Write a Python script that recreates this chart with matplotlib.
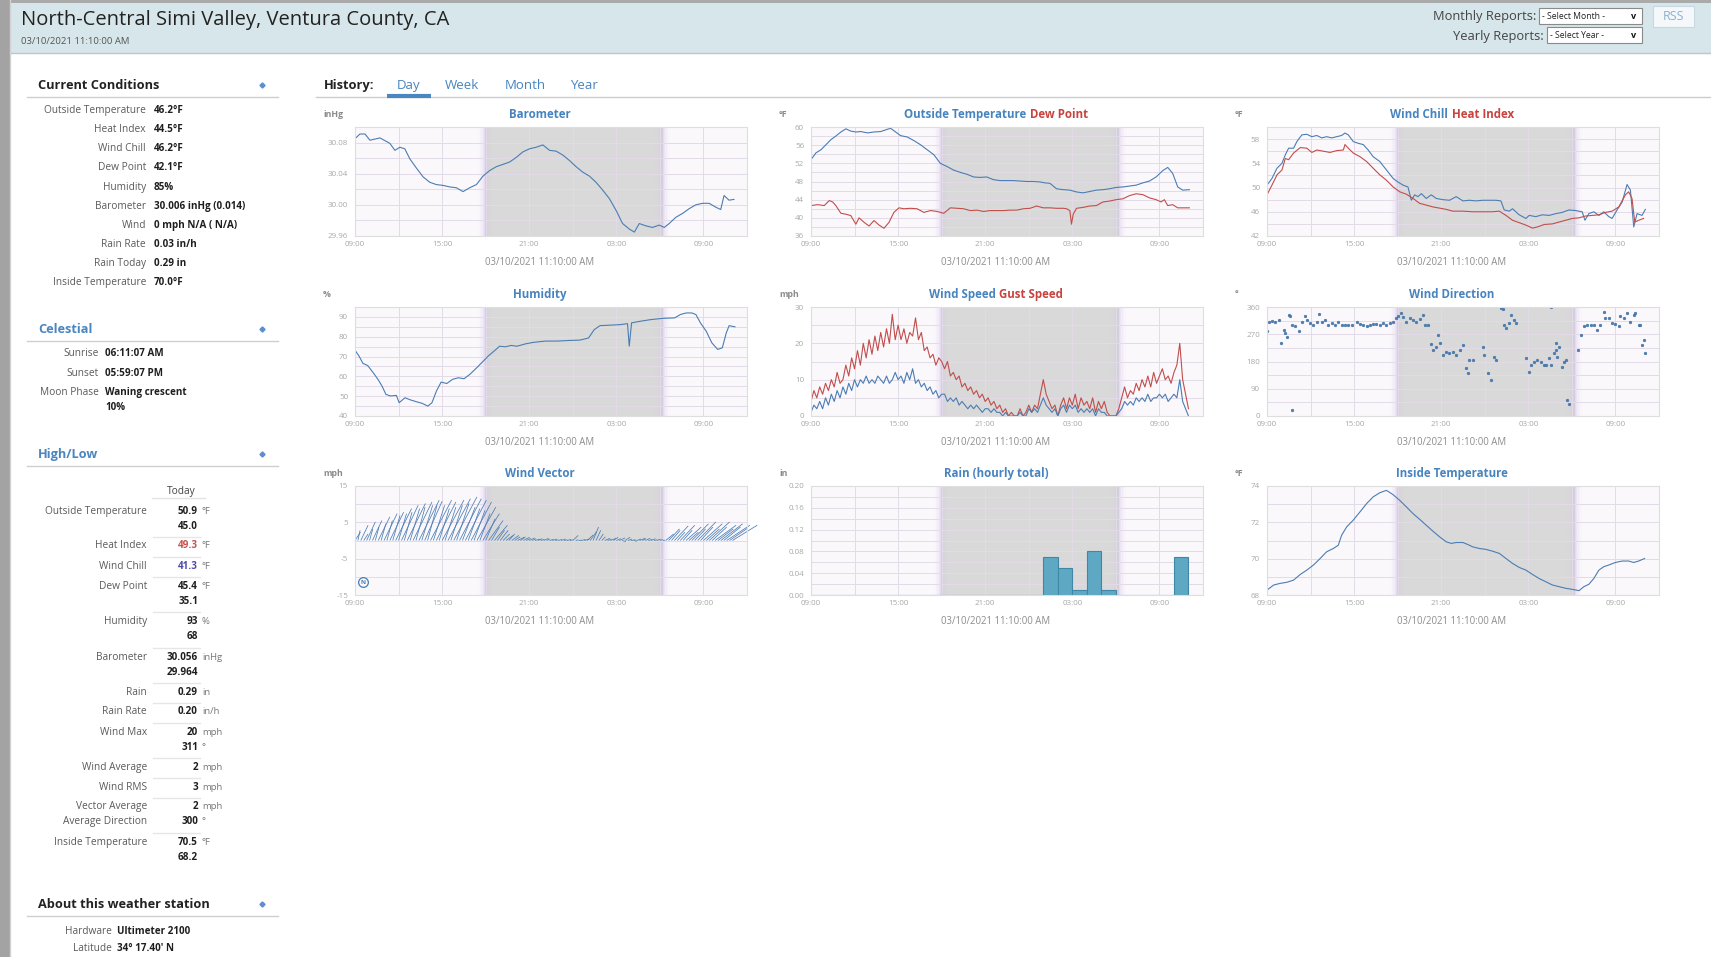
import numpy as np
import matplotlib
matplotlib.use("Agg")
import matplotlib.pyplot as plt
from matplotlib.patches import Rectangle
from matplotlib.collections import LineCollection

plt.rcParams["font.family"] = ["Open Sans", "DejaVu Sans"]

W, H = 1711, 957

# ---------------- page text ----------------
station_name = "North-Central Simi Valley, Ventura County, CA"
report_time = "03/10/2021 11:10:00 AM"

cc_labels = ["Outside Temperature", "Heat Index", "Wind Chill", "Dew Point", "Humidity",
             "Barometer", "Wind", "Rain Rate", "Rain Today", "Inside Temperature"]
cc_values = ["46.2°F", "44.5°F", "46.2°F", "42.1°F", "85%",
             "30.006 inHg (0.014)", "0 mph N/A ( N/A)", "0.03 in/h", "0.29 in", "70.0°F"]

celestial_labels = ["Sunrise", "Sunset", "Moon Phase"]
celestial_values = ["06:11:07 AM", "05:59:07 PM", "Waning crescent"]
moon_fullness = "10%"

hilo_labels = ["Outside Temperature", "Heat Index", "Wind Chill", "Dew Point", "Humidity",
               "Barometer", "Rain", "Rain Rate", "Wind Max", "Wind Average", "Wind RMS",
               "Vector Average", "Inside Temperature"]
hilo_sublabels = [None] * 11 + ["Average Direction", None]
hilo_high = ["50.9", "49.3", "41.3", "45.4", "93", "30.056", "0.29", "0.20", "20", "2", "3", "2", "70.5"]
hilo_low = ["45.0", None, None, "35.1", "68", "29.964", None, None, "311", None, None, "300", "68.2"]
hilo_units = ["°F", "°F", "°F", "°F", "%", "inHg", "in", "in/h", "mph", "mph", "mph", "mph", "°F"]
hilo_low_units = ["", "", "", "", "", "", "", "", "°", "", "", "°", ""]

about_labels = ["Hardware", "Latitude"]
about_values = ["Ultimeter 2100", "34° 17.40' N"]

history_tabs = ["Day", "Week", "Month", "Year"]

# ---------------- chart data (hours after 09:00 on 03/09) ----------------
time_ticks = [0, 6, 12, 18, 24]
time_labels = ["09:00", "15:00", "21:00", "03:00", "09:00"]
sunset_h = 8.985   # 17:59:07
sunrise_h = 21.185  # 06:11:07

baro_hours = [0.0, 0.34, 0.69, 1.03, 1.72, 2.40, 2.75, 3.09, 3.43, 3.78, 4.24, 4.69, 5.15, 5.61,
              6.07, 6.53, 6.98, 7.44, 7.90, 8.36, 8.82, 9.27, 9.73, 10.19, 10.65, 11.11, 11.56,
              12.02, 12.48, 12.94, 13.40, 13.85, 14.31, 14.77, 15.23, 15.69, 16.14, 16.60, 17.06,
              17.52, 17.98, 18.43, 18.89, 19.24, 19.58, 20.04, 20.49, 20.95, 21.30, 21.64, 22.10,
              22.56, 23.01, 23.47, 23.93, 24.39, 24.85, 25.19, 25.42, 25.76, 26.10]
baro_inhg = [30.085, 30.091, 30.091, 30.083, 30.086, 30.079, 30.070, 30.074, 30.072, 30.059,
             30.047, 30.036, 30.029, 30.026, 30.025, 30.023, 30.022, 30.017, 30.022, 30.026,
             30.037, 30.044, 30.049, 30.052, 30.055, 30.061, 30.068, 30.072, 30.074, 30.077,
             30.070, 30.069, 30.064, 30.057, 30.049, 30.042, 30.037, 30.029, 30.019, 30.008,
             29.993, 29.976, 29.969, 29.965, 29.976, 29.973, 29.971, 29.974, 29.971, 29.976,
             29.984, 29.989, 29.995, 30.000, 30.002, 30.002, 29.997, 29.994, 30.012, 30.006, 30.007]

temp_hours = [0, 0.34, 0.69, 1.03, 1.37, 1.71, 2.06, 2.40, 2.74, 3.09, 3.43, 3.89, 4.34, 4.80,
              5.26, 5.49, 5.83, 6.17, 6.63, 7.09, 7.54, 8.0, 8.46, 8.91, 9.37, 9.83, 10.29, 10.74,
              11.2, 11.66, 12.11, 12.57, 13.03, 13.49, 13.94, 14.4, 14.86, 15.31, 15.77, 16.11,
              16.46, 16.91, 17.37, 17.83, 18.29, 18.74, 19.2, 19.66, 20.11, 20.57, 21.03, 21.49,
              21.94, 22.4, 22.86, 23.31, 23.77, 24.23, 24.57, 24.91, 25.26, 25.6, 26.06]
temp_f = [52.8, 54.3, 55.0, 56.1, 57.2, 58.0, 58.9, 59.6, 59.1, 58.9, 59.0, 58.7, 58.9, 59.0,
          59.5, 59.7, 58.9, 58.1, 57.8, 57.0, 56.1, 55.0, 53.9, 52.0, 51.3, 50.5, 50.0, 49.6,
          49.0, 48.9, 49.0, 48.4, 48.2, 48.2, 48.2, 48.1, 48.0, 48.0, 47.9, 47.7, 47.6, 46.4,
          46.2, 46.1, 45.7, 45.5, 45.8, 46.1, 46.2, 46.4, 46.7, 46.8, 47.0, 47.2, 47.7, 48.1,
          49.0, 50.4, 51.1, 49.8, 46.8, 46.1, 46.2]

dew_hours = [0, 0.46, 0.91, 1.26, 1.49, 1.71, 2.06, 2.40, 2.74, 3.09, 3.31, 3.66, 4.0, 4.34,
             4.69, 5.03, 5.37, 5.71, 6.06, 6.4, 6.86, 7.31, 7.77, 8.23, 8.69, 9.14, 9.6, 10.06,
             10.51, 10.97, 11.43, 11.89, 12.34, 12.8, 13.26, 13.71, 14.17, 14.63, 15.09, 15.54,
             16.0, 16.46, 16.91, 17.37, 17.6, 17.83, 17.94, 18.06, 18.29, 18.74, 19.2, 19.66,
             20.11, 20.57, 21.03, 21.49, 21.94, 22.4, 22.86, 23.31, 23.77, 24.11, 24.34, 24.57,
             24.91, 25.26, 26.06]
dew_f = [42.7, 42.9, 42.7, 43.8, 43.5, 42.7, 41.0, 40.8, 40.5, 38.6, 40.0, 39.0, 38.2, 39.4,
         38.4, 37.7, 39.0, 41.2, 42.2, 42.0, 42.1, 42.0, 41.2, 41.6, 41.4, 41.0, 42.2, 42.1,
         42.0, 41.6, 41.7, 41.4, 41.6, 41.6, 41.6, 41.7, 41.7, 42.0, 42.1, 42.6, 42.2, 42.2,
         42.1, 42.1, 42.0, 41.6, 38.6, 40.8, 42.1, 42.3, 42.6, 42.7, 43.5, 43.7, 44.0, 44.2,
         44.9, 45.3, 45.1, 44.4, 44.0, 43.5, 44.0, 42.7, 42.9, 42.2, 42.2]

chill_hours = [0, 0.34, 0.69, 1.03, 1.26, 1.49, 1.83, 2.06, 2.4, 2.74, 3.09, 3.43, 3.77, 4.11,
               4.46, 4.8, 5.14, 5.37, 5.6, 5.94, 6.29, 6.63, 6.97, 7.31, 7.77, 8.23, 8.69, 9.03,
               9.37, 9.71, 9.94, 10.17, 10.4, 10.63, 10.97, 11.31, 11.66, 12.11, 12.57, 13.03,
               13.49, 13.94, 14.4, 14.86, 15.31, 15.77, 16.11, 16.34, 16.69, 16.91, 17.37, 17.83,
               18.06, 18.51, 18.97, 19.43, 19.89, 20.34, 20.8, 21.26, 21.71, 21.9, 22.17, 22.51,
               22.86, 23.2, 23.54, 23.77, 24.11, 24.46, 24.8, 25.03, 25.26, 25.49, 25.83, 26.06]
chill_f = [50.4, 51.5, 53.2, 54.0, 55.4, 56.5, 56.5, 57.6, 58.7, 58.8, 58.4, 58.6, 58.2, 58.4,
           58.2, 58.4, 58.6, 59.0, 58.7, 57.6, 57.3, 57.1, 56.2, 55.1, 54.3, 52.9, 51.5, 50.9,
           50.4, 50.1, 47.9, 48.8, 48.5, 49.0, 48.2, 48.8, 48.2, 48.0, 47.9, 48.5, 47.8, 47.9,
           47.8, 47.9, 47.9, 47.9, 47.8, 46.3, 46.1, 46.5, 45.5, 44.9, 45.4, 45.2, 45.5, 45.4,
           45.7, 45.9, 46.3, 46.2, 46.0, 44.6, 45.7, 46.0, 45.4, 46.0, 45.2, 44.9, 46.3, 47.6,
           50.5, 49.6, 43.5, 45.7, 45.4, 46.4]

heat_hours = [0, 0.34, 0.69, 1.03, 1.26, 1.49, 1.83, 2.29, 2.74, 3.09, 3.43, 3.89, 4.34, 4.8,
              5.26, 5.37, 5.6, 5.94, 6.4, 6.86, 7.31, 7.77, 8.23, 8.69, 9.14, 9.6, 10.06, 10.51,
              10.97, 11.43, 11.89, 12.34, 12.8, 13.49, 14.17, 14.86, 15.54, 16.0, 16.46, 16.91,
              17.37, 17.83, 18.29, 18.63, 19.09, 19.66, 20.11, 20.57, 21.03, 21.49, 21.94, 22.4,
              22.86, 23.31, 23.77, 24.23, 24.69, 24.91, 25.14, 25.33, 25.6, 25.94]
heat_f = [48.8, 50.4, 52.1, 52.9, 54.8, 54.6, 55.7, 56.6, 56.5, 55.8, 56.2, 56.0, 55.8, 56.1,
          56.2, 57.1, 56.5, 55.7, 55.1, 54.3, 53.2, 52.1, 51.2, 50.1, 49.3, 48.9, 48.2, 47.4,
          47.1, 46.8, 46.6, 46.4, 46.1, 46.1, 46.0, 46.0, 46.0, 46.1, 45.4, 44.6, 44.2, 43.8,
          43.3, 43.5, 43.9, 44.0, 44.3, 44.6, 44.9, 45.0, 45.3, 45.4, 45.5, 45.9, 46.1, 46.8,
          48.8, 49.3, 48.2, 44.3, 44.6, 44.9]

hum_hours = [0, 0.28, 0.55, 0.87, 1.26, 1.58, 1.86, 2.13, 2.45, 2.85, 3.04, 3.44, 3.83, 4.23,
             4.62, 5.02, 5.30, 5.61, 5.93, 6.32, 6.72, 7.11, 7.51, 7.91, 8.38, 8.77, 9.17, 9.57,
             9.96, 10.36, 10.75, 11.15, 11.74, 12.33, 13.12, 13.91, 14.70, 15.49, 16.09, 16.48,
             16.88, 17.47, 18.26, 18.77, 18.89, 19.05, 19.64, 20.43, 21.23, 22.02, 22.41, 22.81,
             23.20, 23.48, 23.79, 24.19, 24.58, 24.98, 25.30, 25.57, 25.77, 26.17]
hum_pct = [73.2, 70.2, 66.5, 65.5, 61.8, 58.5, 55.1, 50.9, 50.1, 50.4, 46.7, 49.2, 48.1, 47.2,
           46.4, 45.0, 46.7, 52.6, 57.1, 56.4, 58.5, 59.3, 58.8, 61.0, 64.3, 67.2, 70.2, 72.7,
           75.2, 74.9, 75.6, 75.2, 76.4, 77.2, 77.8, 77.8, 78.1, 78.3, 79.4, 83.6, 85.6, 85.8,
           86.1, 86.6, 75.2, 87.0, 87.8, 88.7, 89.3, 89.5, 91.2, 92.0, 92.0, 91.2, 87.0, 82.8,
           76.9, 73.6, 74.4, 81.9, 85.6, 85.0]

# wind speed and gust, one reading every 0.2 h
wind_step_h = 0.2
gust_mph = [4, 7, 5, 8, 6, 9, 7, 10, 8, 12,
            9, 10, 14, 11, 16, 13, 18, 14, 20, 16,
            21, 17, 22, 18, 23, 19, 24, 20, 28, 21,
            25, 21, 24, 20, 23, 22, 27, 21, 23, 18,
            19, 16, 17, 14, 16, 15, 13, 15, 11, 12,
            10, 11, 8, 9, 7, 8, 6, 7, 5, 6,
            4, 5, 3, 4, 2, 3, 1, 2, 0, 1,
            0, 0, 2, 0, 1, 3, 1, 3, 2, 6,
            10, 6, 4, 2, 3, 0, 3, 5, 2, 5,
            3, 6, 2, 5, 3, 4, 2, 5, 1, 4,
            2, 4, 1, 0, 0, 0, 2, 5, 8, 5,
            7, 6, 9, 7, 10, 8, 11, 8, 12, 9,
            11, 13, 10, 11, 9, 12, 14, 20, 10, 6,
            2]
speed_mph = [1, 3, 2, 4, 2, 5, 3, 6, 4, 7,
             5, 8, 6, 9, 7, 10, 8, 10, 9, 11,
             9, 10, 9, 11, 10, 9, 11, 9, 10, 12,
             10, 11, 9, 12, 10, 13, 9, 10, 8, 9,
             7, 8, 6, 7, 5, 6, 6, 4, 5, 4,
             5, 3, 4, 3, 2, 3, 2, 3, 2, 1,
             2, 2, 1, 2, 1, 1, 0, 1, 0, 0,
             0, 0, 1, 0, 0, 2, 1, 2, 1, 3,
             5, 3, 2, 1, 2, 0, 2, 3, 1, 3,
             2, 3, 1, 2, 1, 2, 1, 2, 0, 2,
             1, 1, 0, 0, 0, 0, 1, 2, 4, 3,
             4, 3, 5, 4, 5, 4, 6, 4, 5, 5,
             6, 5, 6, 4, 5, 6, 5, 10, 4, 2,
             0]

dir_hours = [0.0, 0.11, 0.34, 0.57, 0.8, 0.96, 1.14, 1.26, 1.37, 1.49, 1.6, 1.71, 1.71, 1.94,
             2.17, 2.4, 2.63, 2.74, 2.97, 3.2, 3.43, 3.61, 3.77, 4.0, 4.23, 4.46, 4.69, 4.91,
             5.14, 5.37, 5.6, 5.83, 6.17, 6.4, 6.63, 6.86, 7.09, 7.31, 7.54, 7.77, 8.0, 8.23,
             8.46, 8.69, 8.91, 9.03, 9.26, 9.37, 9.6, 9.83, 10.06, 10.29, 10.51, 10.74, 10.86,
             11.09, 11.31, 11.43, 11.66, 11.77, 11.89, 12.11, 12.34, 12.57, 12.8, 13.03, 13.26,
             13.49, 13.71, 13.83, 13.94, 14.17, 14.86, 14.97, 15.2, 15.43, 15.66, 15.77, 16.11,
             16.23, 16.34, 16.46, 16.69, 16.8, 17.03, 17.14, 17.83, 18.06, 18.17, 18.4, 18.63,
             18.86, 19.09, 19.2, 19.43, 19.54, 19.54, 19.77, 19.89, 19.89, 20.0, 20.11, 20.34,
             20.46, 20.57, 20.69, 20.8, 21.44, 21.6, 21.83, 22.06, 22.29, 22.51, 22.74, 22.97,
             23.2, 23.31, 23.54, 23.77, 24.0, 24.23, 24.34, 24.57, 24.8, 25.03, 25.26, 25.37,
             25.6, 25.71, 25.83, 25.94, 26.01]
dir_deg = [281, 312, 315, 310, 318, 240, 285, 273, 262, 334, 330, 301, 19, 296,
           281, 312, 329, 318, 307, 301, 312, 337, 312, 318, 301, 307, 299, 312,
           301, 299, 301, 301, 312, 303, 301, 296, 299, 303, 303, 301, 307, 301,
           307, 312, 323, 329, 340, 326, 312, 323, 318, 312, 321, 334, 301,
           301, 237, 218, 229, 268, 240, 202, 213, 207, 213, 202, 218,
           235, 157, 141, 185, 185, 229, 202, 141, 118, 196, 185, 357,
           352, 301, 290, 307, 334, 318, 307, 190, 146, 168, 179, 185,
           179, 168, 168, 190, 360, 168, 207, 218, 240, 196, 229, 163,
           179, 185, 52, 41, 218, 268, 296, 301, 301, 301, 285, 301,
           345, 323, 323, 307, 304, 296, 329, 323, 340, 312, 334, 340,
           301, 301, 235, 251, 207]

# wind vectors, one every 0.2 h: east and north components in mph
vec_step_h = 0.2
vec_north = [2.3, 2.8, 4.2, 1.8, 5.1, 3.2, 5.5, 3.7, 6.5, 4.6,
             7.4, 5.5, 7.8, 6.9, 8.8, 7.4, 9.7, 7.8, 10.2, 8.8,
             10.6, 9.2, 11.1, 9.7, 10.8, 9.7, 11.1, 9.7, 10.6, 8.8,
             11.1, 9.2, 11.5, 9.7, 12.0, 10.2, 11.5, 9.2, 11.1, 8.8,
             10.6, 8.3, 9.2, 7.4, 7.4, 6.0, 5.5, 3.7, 4.2, 2.8,
             2.8, 1.8, 1.4, 1.8, 1.4, 1.0, 0.9, 1.0, 0.9, 0.6,
             0.7, 0.5, 0.4, 0.5, 0.3, 0.6, 0.4, 0.3, 0.4, 0.2,
             0.3, 0.4, 0.2, 0.3, 0.2, 1.4, 0.2, 0.1, 0.3, 0.4,
             1.5, 2.5, 3.7, 2.8, 1.8, 1.0, 0.6, 0.4, 0.6, 0.9,
             0.5, 0.7, -0.3, 0.9, 0.4, 0.2, -0.2, 0.4, 0.6, 0.5,
             0.6, 0.3, 0.5, 0.2, 0.4, 0.3, 0.1, 1.8, 3.2, 2.8,
             4.0, 2.3, 4.2, 2.8, 3.7, 2.3, 4.6, 3.2, 5.1, 3.7,
             4.6, 3.2, 5.1, 3.7, 4.2, 3.2, 4.6, 3.7, 4.2, 3.4,
             4.2]
vec_east = [1.5, 0.6, 2.0, 1.2, 2.4, 0.9, 2.6, 1.0, 3.2, 1.3,
            3.6, 1.5, 3.8, 2.0, 4.4, 2.2, 4.6, 2.1, 5.0, 2.6,
            5.2, 2.5, 5.6, 3.0, 4.8, 2.6, 5.8, 3.1, 5.4, 2.8,
            6.0, 3.0, 6.2, 3.2, 6.4, 3.4, 6.0, 3.5, 5.8, 3.2,
            5.6, 3.0, 5.2, 2.8, 4.6, 2.6, 4.0, 2.2, 3.6, 2.0,
            2.2, 1.8, 2.0, 1.6, 1.9, 1.5, 1.8, 1.4, 1.7, 1.2,
            1.5, 1.1, 1.4, 1.2, 1.0, 1.3, 0.9, 1.1, 1.2, 0.8,
            1.0, 1.2, 0.9, 1.1, 0.8, 1.5, 0.7, 0.9, 1.1, 1.4,
            1.6, 1.8, 1.5, 1.3, 1.2, 1.0, 1.4, 1.1, 1.5, 1.3,
            1.2, 1.6, 1.0, 1.4, 1.1, 1.3, 0.9, 1.2, 1.5, 1.0,
            1.3, 1.1, 1.2, 0.9, 1.0, 0.8, 0.6, 2.2, 3.0, 2.4,
            3.8, 2.1, 4.0, 2.5, 4.2, 2.6, 4.6, 3.0, 5.0, 3.4,
            5.2, 3.6, 5.6, 4.0, 5.8, 4.2, 6.0, 4.6, 6.4, 5.0,
            6.8]

# hourly rain totals, one bar per hour starting 09:00
rain_in = [0, 0, 0, 0, 0, 0, 0, 0, 0, 0, 0, 0, 0, 0, 0, 0,
           0.07, 0.05, 0.01, 0.08, 0.01, 0, 0, 0, 0, 0.07]

inside_hours = [0, 0.46, 0.91, 1.37, 1.83, 2.29, 2.74, 3.2, 3.66, 4.11, 4.57, 4.91, 5.14, 5.49,
                5.94, 6.4, 6.86, 7.31, 7.77, 8.23, 8.69, 9.14, 9.6, 10.06, 10.51, 10.97, 11.43,
                11.89, 12.34, 12.69, 13.03, 13.49, 13.83, 14.17, 14.63, 15.09, 15.54, 16.0,
                16.46, 16.91, 17.37, 17.83, 18.29, 18.74, 19.2, 19.66, 20.11, 20.57, 21.03,
                21.49, 21.83, 22.17, 22.51, 22.86, 23.2, 23.54, 24.0, 24.46, 24.91, 25.26, 25.6, 26.01]
inside_f = [68.27, 68.55, 68.64, 68.70, 68.82, 69.13, 69.37, 69.65, 70.01, 70.38, 70.56, 70.74,
            71.29, 71.75, 72.12, 72.57, 73.03, 73.40, 73.63, 73.76, 73.52, 73.21, 72.85, 72.48,
            72.17, 71.84, 71.51, 71.20, 70.93, 70.84, 70.89, 70.89, 70.78, 70.65, 70.56, 70.51,
            70.41, 70.29, 70.01, 69.74, 69.52, 69.37, 69.13, 68.91, 68.73, 68.55, 68.46, 68.37,
            68.31, 68.24, 68.46, 68.59, 68.91, 69.37, 69.56, 69.65, 69.79, 69.87, 69.87, 69.79,
            69.87, 70.01]

# ---------------- styling ----------------
LINE_BLUE = "#4a7db3"
LINE_RED = "#c24d4b"
TITLE_BLUE = "#4784bf"
TITLE_RED = "#c8433f"
PLOT_BG = "#fbf8fc"
GRID = "#e3dce8"
NIGHT = "#d9d9d9"
GLOW = "#c9b9e2"
TICK = "#a8a8a8"
RAIN_FILL = "#5ea8c3"
RAIN_EDGE = "#3f87a6"

COL_X = [355, 811, 1267]
ROW_Y = [127, 307, 486]
PW, PH = 392, 109
X_MAX = 27
TEXT_DY = 1.5  # text centre sits a little low compared with matplotlib's box centre

fig = plt.figure(figsize=(W / 100, H / 100), dpi=100)
fig.patch.set_facecolor("white")
bg = fig.add_axes([0, 0, 1, 1])
bg.set_xlim(0, W)
bg.set_ylim(H, 0)
bg.axis("off")


def rect(x, y, w, h, **kw):
    bg.add_patch(Rectangle((x, y), w, h, **kw))


def txt(x, y, s, size=7.5, color="#333333", weight="normal", ha="left", **kw):
    return bg.text(x, y + TEXT_DY, s, fontsize=size, color=color, fontweight=weight,
                   ha=ha, va="center", **kw)


# ---- header bar ----
rect(0, 0, W, 53, facecolor="#d6e6ea", edgecolor="none")
bg.plot([10, W], [53, 53], color="#b9c8cc", lw=1)
rect(0, 0, W, 2.5, facecolor="#aaaaaa", edgecolor="none")
rect(0, 0, 10, H, facecolor="#a3a3a3", edgecolor="none")
bg.plot([10.5, 10.5], [0, H], color="#d2d2d2", lw=1)

txt(21, 19, station_name, size=14.5, color="#222222")
txt(21, 40, report_time, size=6.8, color="#555555")


def dropdown(x, y, w, h, label):
    rect(x, y, w, h, facecolor="white", edgecolor="#8a8a8a", lw=0.8)
    txt(x + 3, y + h / 2 - 1, label, size=6.2, color="#222222")
    txt(x + w - 8, y + h / 2 - 1, "v", size=6.5, color="#111111", weight="bold", ha="center")


txt(1536, 15, "Monthly Reports:", size=9.3, color="#444444", ha="right")
dropdown(1539, 8, 103, 16, "- Select Month -")
txt(1544, 35, "Yearly Reports:", size=9.3, color="#444444", ha="right")
dropdown(1547, 27, 95, 16, "- Select Year -")
rect(1653, 6, 41, 21, facecolor="#f4f8fa", edgecolor="#c8d8e0", lw=0.8)
txt(1673.5, 15.5, "RSS", size=9, color="#8cb0cf", ha="center")

# ---- history tabs ----
txt(324, 84, "History:", size=9.3, color="#222222", weight="bold")
for name, cx in zip(history_tabs, [409, 462, 525, 584]):
    txt(cx, 84, name, size=9.5, color=TITLE_BLUE, ha="center")
bg.plot([316, W], [97, 97], color="#cccccc", lw=1)
bg.plot([387, 431], [96, 96], color="#4a86c0", lw=3, solid_capstyle="butt")

# ---- sidebar ----
DIAMOND = "#5c8fcf"


def section(y, title, color):
    txt(38, y, title, size=9.2, color=color, weight="bold")
    bg.plot([262], [y + 1], marker="D", ms=2.6, color=DIAMOND)
    bg.plot([27, 278], [y + 13, y + 13], color="#cfcfcf", lw=1)


LABEL_C = "#5a5a5a"
VALUE_C = "#1e1e1e"

section(84, "Current Conditions", "#222222")
for i, (lab, val) in enumerate(zip(cc_labels, cc_values)):
    y = 109 + 19.15 * i
    txt(146, y, lab, size=7.3, color=LABEL_C, ha="right")
    txt(154, y, val, size=7.1, color=VALUE_C, weight="bold")

section(328, "Celestial", "#4a86c0")
for i, (lab, val) in enumerate(zip(celestial_labels, celestial_values)):
    y = 352 + 19.5 * i
    txt(99, y, lab, size=7.3, color=LABEL_C, ha="right")
    txt(105, y, val, size=7.1, color=VALUE_C, weight="bold")
txt(105, 406, moon_fullness, size=7.1, color=VALUE_C, weight="bold")

section(453, "High/Low", "#4a86c0")
txt(181, 490, "Today", size=7.3, color="#444444", ha="center")
bg.plot([152, 205], [498, 498], color="#e4e4e4", lw=1)

hilo_y = [510, 544, 565, 585, 620, 656, 691, 710, 731, 766, 786, 805, 841]
value_colors = {1: "#c9504e", 2: "#4d4dab"}
LOW_DY = 15
for i, lab in enumerate(hilo_labels):
    y = hilo_y[i]
    txt(147, y, lab, size=7.3, color=LABEL_C, ha="right")
    txt(198, y, hilo_high[i], size=7.1, color=value_colors.get(i, VALUE_C),
        weight="bold", ha="right")
    txt(202, y, hilo_units[i], size=6.8, color="#777777")
    if hilo_low[i] is not None:
        txt(198, y + LOW_DY, hilo_low[i], size=7.1, color=VALUE_C, weight="bold", ha="right")
        if hilo_low_units[i]:
            txt(202, y + LOW_DY, hilo_low_units[i], size=6.8, color="#777777")
    if hilo_sublabels[i]:
        txt(147, y + LOW_DY, hilo_sublabels[i], size=7.3, color=LABEL_C, ha="right")
    if i + 1 < len(hilo_labels):
        last = y + (LOW_DY if hilo_low[i] is not None else 0)
        sep = (last + hilo_y[i + 1]) / 2 + 2
        bg.plot([153, 200], [sep, sep], color="#e6e6e6", lw=1)

section(903, "About this weather station", "#222222")
for i, (lab, val) in enumerate(zip(about_labels, about_values)):
    y = 930 + 17 * i
    txt(112, y, lab, size=7.3, color=LABEL_C, ha="right")
    txt(117, y, val, size=7.1, color=VALUE_C, weight="bold")


# ---------------- charts ----------------
def shade_night(ax):
    ax.axvspan(sunset_h, sunrise_h, color=NIGHT, lw=0, zorder=0.1)
    step = 0.1
    for k, a in enumerate([0.45, 0.3, 0.18, 0.1, 0.04]):
        ax.axvspan(sunset_h - (k + 1) * step, sunset_h - k * step, color=GLOW, alpha=a, lw=0, zorder=0.15)
        ax.axvspan(sunrise_h + k * step, sunrise_h + (k + 1) * step, color=GLOW, alpha=a, lw=0, zorder=0.15)
        ax.axvspan(sunset_h + k * step, sunset_h + (k + 1) * step, color=GLOW, alpha=a * 0.6, lw=0, zorder=0.15)
        ax.axvspan(sunrise_h - (k + 1) * step, sunrise_h - k * step, color=GLOW, alpha=a * 0.6, lw=0, zorder=0.15)


def make_chart(col, row, ylim, yticks, fmt, grid_step, unit, title_parts):
    x0, y0 = COL_X[col], ROW_Y[row]
    ax = fig.add_axes([x0 / W, 1 - (y0 + PH) / H, PW / W, PH / H])
    ax.set_facecolor(PLOT_BG)
    ax.set_xlim(0, X_MAX)
    ax.set_ylim(*ylim)
    shade_night(ax)
    for gy in np.arange(ylim[0], ylim[1] + grid_step * 0.01, grid_step):
        ax.axhline(gy, color=GRID, lw=0.7, zorder=0.3)
    for gx in range(3, X_MAX, 3):
        ax.axvline(gx, color=GRID, lw=0.7, zorder=0.3)
    ax.set_xticks(time_ticks)
    ax.set_xticklabels(time_labels)
    ax.set_yticks(yticks)
    ax.set_yticklabels([fmt.format(v) for v in yticks])
    ax.tick_params(axis="both", length=0, labelsize=5.8, labelcolor=TICK)
    ax.tick_params(axis="y", pad=5)
    ax.tick_params(axis="x", pad=3.5)
    for s in ax.spines.values():
        s.set_color("#dedede")
        s.set_linewidth(0.8)

    cx = x0 + PW / 2 - 11
    ty = y0 - 14
    renderer = fig.canvas.get_renderer()
    texts = [txt(0, ty, s, size=8.3, color=c, weight="bold") for s, c in title_parts]
    widths = [t.get_window_extent(renderer).width for t in texts]
    gap = 4
    x = cx - (sum(widths) + gap * (len(texts) - 1)) / 2
    for t, w in zip(texts, widths):
        t.set_x(x)
        x += w + gap
    txt(x0 - 32, ty, unit, size=6.3, color="#8a8a8a", weight="bold")
    txt(cx, y0 + PH + 25, report_time, size=6.9, color="#8d8d8d", ha="center")
    return ax


# Barometer
ax = make_chart(0, 0, (29.96, 30.10), [29.96, 30.00, 30.04, 30.08], "{:.2f}", 0.02, "inHg",
                [("Barometer", TITLE_BLUE)])
ax.plot(baro_hours, baro_inhg, color=LINE_BLUE, lw=0.8)

# Outside temperature / dew point
ax = make_chart(1, 0, (36, 60), [36, 40, 44, 48, 52, 56, 60], "{:.0f}", 2, "°F",
                [("Outside Temperature", TITLE_BLUE), ("Dew Point", TITLE_RED)])
ax.plot(temp_hours, temp_f, color=LINE_BLUE, lw=0.8)
ax.plot(dew_hours, dew_f, color=LINE_RED, lw=0.8)

# Wind chill / heat index
ax = make_chart(2, 0, (42, 60), [42, 46, 50, 54, 58], "{:.0f}", 2, "°F",
                [("Wind Chill", TITLE_BLUE), ("Heat Index", TITLE_RED)])
ax.plot(chill_hours, chill_f, color=LINE_BLUE, lw=0.8)
ax.plot(heat_hours, heat_f, color=LINE_RED, lw=0.8)

# Humidity
ax = make_chart(0, 1, (40, 95), [40, 50, 60, 70, 80, 90], "{:.0f}", 5, "%",
                [("Humidity", TITLE_BLUE)])
ax.plot(hum_hours, hum_pct, color=LINE_BLUE, lw=0.8)

# Wind speed / gust
ax = make_chart(1, 1, (0, 30), [0, 10, 20, 30], "{:.0f}", 5, "mph",
                [("Wind Speed", TITLE_BLUE), ("Gust Speed", TITLE_RED)])
wind_hours = np.arange(len(gust_mph)) * wind_step_h
ax.plot(wind_hours, gust_mph, color=LINE_RED, lw=0.8)
ax.plot(wind_hours, speed_mph, color=LINE_BLUE, lw=0.8)

# Wind direction
ax = make_chart(2, 1, (0, 360), [0, 90, 180, 270, 360], "{:.0f}", 45, "°",
                [("Wind Direction", TITLE_BLUE)])
ax.plot(dir_hours, dir_deg, "o", ms=2.0, color=LINE_BLUE, mec="#3a6c9e", mew=0.3)

# Wind vector
ax = make_chart(0, 2, (-15, 15), [-15, -5, 5, 15], "{:.0f}", 5, "mph",
                [("Wind Vector", TITLE_BLUE)])
VEC_SCALE = 0.25  # hours of x per mph of east component
vec_hours = np.arange(len(vec_north)) * vec_step_h
segments = [[(t, 0), (t + e * VEC_SCALE, n)] for t, e, n in zip(vec_hours, vec_east, vec_north)]
ax.add_collection(LineCollection(segments, colors=LINE_BLUE, linewidths=0.55, clip_on=False))
ax.plot([0.55], [-11.5], marker="o", ms=7, mfc="none", mec=LINE_BLUE, mew=0.9)
ax.text(0.55, -11.5, "N", fontsize=4.5, color=LINE_BLUE, ha="center", va="center", fontweight="bold")

# Rain
ax = make_chart(1, 2, (0, 0.20), [0.00, 0.04, 0.08, 0.12, 0.16, 0.20], "{:.2f}", 0.02, "in",
                [("Rain (hourly total)", TITLE_BLUE)])
ax.bar(np.arange(len(rain_in)), rain_in, width=1, align="edge", color=RAIN_FILL,
       edgecolor=RAIN_EDGE, linewidth=0.8, zorder=2)

# Inside temperature
ax = make_chart(2, 2, (68, 74), [68, 70, 72, 74], "{:.0f}", 1, "°F",
                [("Inside Temperature", TITLE_BLUE)])
ax.plot(inside_hours, inside_f, color=LINE_BLUE, lw=0.8)

fig.savefig("out.png", dpi=100)
